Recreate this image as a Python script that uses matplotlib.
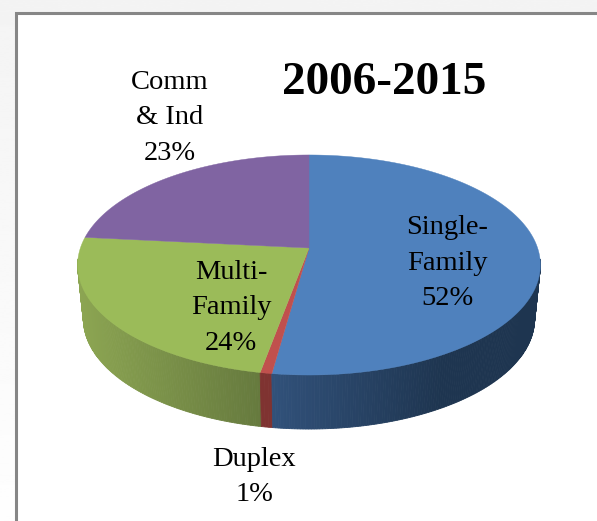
import numpy as np
import matplotlib
matplotlib.use("Agg")
import matplotlib.pyplot as plt
from matplotlib.patches import Polygon, Rectangle

# Data
categories = ["Single-\nFamily", "Duplex", "Multi-\nFamily", "Comm\n& Ind"]
shares = [52.2, 0.7, 23.7, 23.4]
title = "2006-2015"
top_colors = ["#4f81bd", "#c0504d", "#9bbb59", "#8064a2"]
wall_light = ["#31517a", "#7f3331", "#8ca552", "#64507f"]
wall_dark = ["#1e3550", "#7f3331", "#667a3e", "#64507f"]

# Layout (pixels)
W, H = 597, 521
VX, VY = 309, 248          # wedge apex on the top face
A, B, K = 228.6, 107.4, 0.1545   # perspective ellipse
DEPTH = 54
SHRINK = 0.975
LABEL_POS = [(447, 263), (254, 477), (231, 308), (170, 118)]
FS = 20.5

fig = plt.figure(figsize=(W / 100, H / 100), dpi=100)
ax = fig.add_axes([0, 0, 1, 1])
ax.set_xlim(0, W)
ax.set_ylim(H, 0)
ax.axis("off")

# Page background and chart frame
grad = np.linspace(0.955, 0.995, 256).reshape(-1, 1)
ax.imshow(grad, extent=(0, W, H, 0), cmap="gray", vmin=0, vmax=1, aspect="auto", zorder=0)
ax.set_xlim(0, W)
ax.set_ylim(H, 0)
ax.add_patch(Rectangle((16, 13), W + 40, H + 40, fc="white", ec="#868686", lw=2.2, zorder=1))


def top_point(theta):
    X, Y = np.sin(theta), np.cos(theta)
    w = 1 + K * Y
    return VX + A * X / w, VY - B * Y / w


def bottom_point(theta):
    x, y = top_point(theta)
    return VX + (x - VX) * SHRINK, y + DEPTH


def mix(c1, c2, t):
    a = np.array(matplotlib.colors.to_rgb(c1))
    b = np.array(matplotlib.colors.to_rgb(c2))
    return tuple(a + (b - a) * t)


edges = np.deg2rad(np.concatenate([[0], np.cumsum(shares)]) * 3.6)

# Side walls: only the front-facing part is visible
quads = []
for i in range(len(shares)):
    th = np.linspace(edges[i], edges[i + 1], max(3, int(shares[i] * 6)))
    for a0, a1 in zip(th[:-1], th[1:]):
        am = (a0 + a1) / 2
        if np.cos(am) > -0.1:
            continue
        t0 = top_point(a0); t1 = top_point(a1)
        b0 = bottom_point(a0); b1 = bottom_point(a1)
        if i == 0:   # dark toward the right, light near the duplex slice
            t = np.clip((top_point(am)[0] - 273) / 170, 0, 1)
            col = mix(wall_light[i], wall_dark[i], t)
        elif i == 2: # light toward the left
            t = np.clip((260 - top_point(am)[0]) / 180, 0, 1)
            col = mix(wall_dark[i], wall_light[i], t)
        else:
            col = wall_light[i]
        quads.append((np.cos(am), [t0, t1, b1, b0], col))
for _, pts, col in sorted(quads, key=lambda q: -q[0]):
    ax.add_patch(Polygon(pts, closed=True, fc=col, ec=col, lw=0.6, zorder=2))

# Top face
for i in range(len(shares)):
    th = np.linspace(edges[i], edges[i + 1], 200)
    xs, ys = top_point(th)
    pts = np.column_stack([np.r_[VX, xs], np.r_[VY, ys]])
    ax.add_patch(Polygon(pts, closed=True, fc=top_colors[i], ec=top_colors[i], lw=0.3, zorder=3))

# Labels
font = "Liberation Serif"
for name, val, (x, y) in zip(categories, shares, LABEL_POS):
    ax.text(x, y, f"{name}\n{round(val)}%", ha="center", va="center", family=font,
            fontsize=FS, linespacing=1.54, color="black", zorder=4)
ax.text(384, 83, title, ha="center", va="center", family=font, fontweight="bold",
        fontsize=34, color="black", zorder=4)

fig.savefig("out.png", dpi=100)
